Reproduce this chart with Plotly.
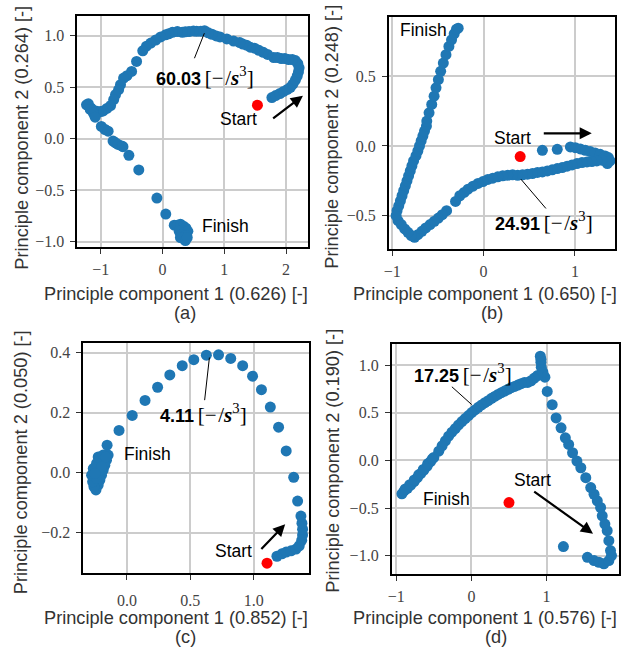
import plotly.graph_objects as go

W, H = 621, 656
BLUE = "#1f77b4"
RED = "#ff0000"

# ---------------- data ----------------
# Panel (a)
a_x = [1.77, 1.83, 1.90, 1.96, 2.02, 2.07, 2.11, 2.15, 2.18, 2.20, 2.21, 2.19, 2.15, 2.10, 2.04, 1.98,
       1.92, 1.86, 1.80, 1.70, 1.63, 1.56, 1.49, 1.42, 1.36, 1.30, 1.25, 1.15, 1.04, 0.93, 0.87, 0.80,
       0.74, 0.68, 0.62, 0.55, 0.50, 0.43, 0.37, 0.32, 0.24, 0.16, 0.10, 0.05, -0.03, -0.11, -0.19,
       -0.26, -0.32, -0.42, -0.50, -0.575, -0.63, -0.68, -0.71, -0.76, -0.79, -0.84, -0.90, -0.96,
       -1.00, -1.04, -1.08, -1.12, -1.16, -1.20, -1.23, -1.17, -1.12, -1.09, -0.99, -0.93, -0.88,
       -0.80, -0.76, -0.72, -0.66, -0.64, -0.544, -0.384, -0.091, 0.053, 0.19,
       0.24, 0.29, 0.34, 0.38, 0.32, 0.27, 0.36, 0.41, 0.31, 0.38, 0.34, 0.29, 0.37, 0.40]
a_y = [0.40, 0.42, 0.44, 0.46, 0.48, 0.50, 0.53, 0.57, 0.61, 0.65, 0.69, 0.73, 0.76, 0.77, 0.77, 0.78,
       0.78, 0.79, 0.79, 0.82, 0.84, 0.86, 0.88, 0.89, 0.91, 0.92, 0.935, 0.95, 0.97, 0.99, 1.00, 1.016,
       1.03, 1.05, 1.045, 1.045, 1.048, 1.042, 1.04, 1.035, 1.042, 1.035, 1.02, 1.01, 0.99, 0.96, 0.93,
       0.90, 0.855, 0.752, 0.655, 0.613, 0.59, 0.526, 0.477, 0.429, 0.381, 0.323, 0.295, 0.27,
       0.265, 0.26, 0.27, 0.275, 0.30, 0.34, 0.33, 0.285, 0.25, 0.21, 0.12, 0.09, 0.074,
       -0.023, -0.04, -0.055, -0.07, -0.077, -0.161, -0.303, -0.577, -0.732, -0.84,
       -0.84, -0.83, -0.85, -0.87, -0.89, -0.90, -0.91, -0.90, -0.93, -0.94, -0.97, -0.96, -0.99, -0.96]
a_start = [1.536, 0.326]

# Panel (b)
b_x = [0.644, 0.807, 0.951, 1.005, 1.06, 1.114, 1.168, 1.222, 1.277, 1.331, 1.367, 1.385, 1.356,
       1.349, 1.295, 1.24, 1.186, 1.132, 1.078, 1.023, 0.969, 0.915, 0.861, 0.807, 0.752, 0.698,
       0.644, 0.590, 0.535, 0.481, 0.427, 0.373, 0.318, 0.264, 0.21, 0.156, 0.101, 0.047, -0.007,
       -0.061, -0.116, -0.17, -0.213, -0.26, -0.307, -0.405, -0.452, -0.495, -0.539, -0.586,
       -0.633, -0.676, -0.72, -0.756, -0.792, -0.828, -0.864, -0.901, -0.937, -0.958, -0.948,
       -0.929, -0.911, -0.893, -0.875, -0.857, -0.839, -0.821, -0.803, -0.785, -0.767, -0.741,
       -0.720, -0.702, -0.684, -0.665, -0.647, -0.626, -0.622, -0.597, -0.568, -0.542, -0.521,
       -0.495, -0.47, -0.441, -0.412, -0.380, -0.351, -0.322, -0.297, -0.278]
b_y = [-0.031, -0.024, -0.007, -0.012, -0.021, -0.031, -0.040, -0.05, -0.06, -0.071, -0.083, -0.107,
       -0.126, -0.112, -0.102, -0.107, -0.112, -0.114, -0.119, -0.126, -0.136, -0.145, -0.155,
       -0.162, -0.171, -0.179, -0.186, -0.19, -0.198, -0.202, -0.207, -0.21, -0.207, -0.21, -0.214,
       -0.221, -0.231, -0.24, -0.255, -0.269, -0.288, -0.31, -0.333, -0.357, -0.398, -0.464,
       -0.493, -0.517, -0.540, -0.564, -0.588, -0.612, -0.636, -0.655, -0.643, -0.619, -0.595,
       -0.564, -0.536, -0.5, -0.464, -0.429, -0.393, -0.357, -0.321, -0.286, -0.25, -0.214,
       -0.179, -0.143, -0.107, -0.071, -0.036, 0.0, 0.036, 0.071, 0.107, 0.143, 0.179, 0.238,
       0.298, 0.357, 0.417, 0.476, 0.536, 0.595, 0.655, 0.714, 0.762, 0.805, 0.838, 0.845]
b_start = [0.401, -0.076]

# Panel (c)
c_x = [1.182, 1.221, 1.255, 1.293, 1.332, 1.358, 1.377, 1.384, 1.384, 1.379, 1.371, 1.345, 1.314,
       1.255, 1.195, 1.13, 1.06, 0.99, 0.912, 0.818, 0.722, 0.626, 0.527, 0.436, 0.338, 0.242,
       0.143, 0.042, -0.062, -0.156, -0.161, -0.226,
       -0.148, -0.161, -0.174, -0.187, -0.2, -0.213, -0.226, -0.244, -0.26, -0.27, -0.278, -0.265,
       -0.239, -0.213, -0.187, -0.226, -0.239, -0.2, -0.166, -0.252]
c_y = [-0.278, -0.27, -0.264, -0.26, -0.254, -0.243, -0.225, -0.207, -0.188, -0.168, -0.144, -0.094,
       -0.015, 0.073, 0.152, 0.219, 0.277, 0.322, 0.357, 0.381, 0.393, 0.392, 0.377, 0.357, 0.326,
       0.285, 0.241, 0.191, 0.141, 0.092, 0.059, 0.053,
       0.059, 0.042, 0.025, 0.009, -0.008, -0.024, -0.041, -0.057, -0.046, -0.03, -0.008, 0.014,
       0.031, 0.048, 0.059, 0.003, -0.019, 0.02, 0.053, -0.002]
c_start = [1.104, -0.301]

# Panel (d)
d_x = [1.224, 1.544, 1.632, 1.697, 1.763, 1.829, 1.864, 1.851, 1.829, 1.807, 1.776, 1.741, 1.719,
       1.675, 1.632, 1.588, 1.522, 1.456, 1.404, 1.346, 1.294, 1.25, 1.193, 1.127, 1.075, 1.009,
       0.978, 0.952, 0.93, 0.925, 0.925, 0.917,
       0.882, 0.838, 0.794, 0.750, 0.706, 0.662, 0.618, 0.575, 0.531, 0.487, 0.443, 0.399, 0.355,
       0.311, 0.268, 0.224, 0.18, 0.136, 0.092, 0.048, 0.004, -0.039, -0.083, -0.127, -0.171,
       -0.215, -0.259, -0.303, -0.346, -0.390, -0.434,
       -0.500, -0.544, -0.588, -0.632, -0.675, -0.719, -0.763, -0.807, -0.851, -0.895, -0.925,
       -0.880, -0.820, -0.760, -0.700, -0.640, -0.580, -0.520]
d_y = [-0.904, -1.016, -1.05, -1.068, -1.085, -1.05, -0.998, -0.946, -0.842, -0.737, -0.668, -0.581,
       -0.494, -0.424, -0.355, -0.285, -0.181, -0.077, -0.007, 0.08, 0.167, 0.237, 0.341, 0.445,
       0.584, 0.723, 0.873, 0.925, 0.977, 1.03, 1.06, 1.092,
       0.89, 0.863, 0.835, 0.817, 0.817, 0.804, 0.790, 0.776, 0.762, 0.745, 0.727, 0.710, 0.692,
       0.671, 0.651, 0.626, 0.605, 0.581, 0.557, 0.529, 0.501, 0.470, 0.438, 0.407, 0.372, 0.334,
       0.296, 0.254, 0.205, 0.153, 0.097,
       0.031, -0.014, -0.059, -0.101, -0.139, -0.181, -0.223, -0.258, -0.292, -0.320, -0.351,
       -0.300, -0.255, -0.205, -0.150, -0.095, -0.035, 0.015]
d_start = [0.50, -0.442]

# Axis tick labels
a_xticks = [-1, 0, 1, 2]
a_xtext = ["\u22121", "0", "1", "2"]
a_yticks = [-1.0, -0.5, 0.0, 0.5, 1.0]
a_ytext = ["\u22121.0", "\u22120.5", "0.0", "0.5", "1.0"]
b_xticks = [-1, 0, 1]
b_xtext = ["\u22121", "0", "1"]
b_yticks = [-0.5, 0.0, 0.5]
b_ytext = ["\u22120.5", "0.0", "0.5"]
c_xticks = [0.0, 0.5, 1.0]
c_xtext = ["0.0", "0.5", "1.0"]
c_yticks = [-0.2, 0.0, 0.2, 0.4]
c_ytext = ["\u22120.2", "0.0", "0.2", "0.4"]
d_xticks = [-1, 0, 1]
d_xtext = ["\u22121", "0", "1"]
d_yticks = [-1.0, -0.5, 0.0, 0.5, 1.0]
d_ytext = ["\u22121.0", "\u22120.5", "0.0", "0.5", "1.0"]

x_titles = ["Principle component 1 (0.626) [-]", "Principle component 1 (0.650) [-]",
            "Principle component 1 (0.852) [-]", "Principle component 1 (0.576) [-]"]
y_titles = ["Principle component 2 (0.264) [-]", "Principle component 2 (0.248) [-]",
            "Principle component 2 (0.050) [-]", "Principle component 2 (0.190) [-]"]
sub_labels = ["(a)", "(b)", "(c)", "(d)"]
jerk_values = ["60.03", "24.91", "4.11", "17.25"]

# ---------------- layout geometry (pixels) ----------------
frames = [  # left, right, top, bottom
    (73, 306, 16, 248),
    (388, 617, 17, 250),
    (79, 307, 345, 576),
    (391, 621, 346, 577),
]
ranges = [
    ([-1.381, 2.347], [-1.051, 1.194]),
    ([-1.04, 1.44], [-0.738, 0.926]),
    ([-0.345, 1.431], [-0.335, 0.431]),
    ([-1.062, 1.964], [-1.195, 1.216]),
]
ticks = [
    (a_xticks, a_xtext, a_yticks, a_ytext),
    (b_xticks, b_xtext, b_yticks, b_ytext),
    (c_xticks, c_xtext, c_yticks, c_ytext),
    (d_xticks, d_xtext, d_yticks, d_ytext),
]
series = [(a_x, a_y, a_start), (b_x, b_y, b_start), (c_x, c_y, c_start), (d_x, d_y, d_start)]


def px(x):
    return x / W


def py(y):
    return 1 - y / H


fig = go.Figure()
layout = dict(
    width=W, height=H, margin=dict(l=0, r=0, t=0, b=0),
    paper_bgcolor="white", plot_bgcolor="white", showlegend=False,
)
TICKFONT = dict(family="Liberation Serif", size=16, color="#444")
for i in range(4):
    sfx = "" if i == 0 else str(i + 1)
    l, r, t, b = frames[i]
    xr, yr = ranges[i]
    xt, xtt, yt, ytt = ticks[i]
    common = dict(showline=True, mirror=True, linecolor="black", linewidth=1.5,
                  showgrid=True, gridcolor="#cccccc", gridwidth=1.5, zeroline=False,
                  ticks="outside", ticklen=5, tickwidth=1, tickcolor="#333",
                  tickfont=TICKFONT)
    layout["xaxis" + sfx] = dict(common, domain=[px(l), px(r)], range=xr, tickvals=xt,
                                  ticktext=xtt, anchor="y" + sfx,
                                  ticklabelstandoff=(7 if i == 2 else 2))
    layout["yaxis" + sfx] = dict(common, domain=[py(b), py(t)], range=yr, tickvals=yt,
                                  ticktext=ytt, anchor="x" + sfx, ticklabelstandoff=3)
    xs, ys, st = series[i]
    fig.add_trace(go.Scatter(x=xs, y=ys, mode="markers", xaxis="x" + sfx, yaxis="y" + sfx,
                             marker=dict(size=11, color=BLUE, line=dict(width=0)),
                             hoverinfo="skip"))
    fig.add_trace(go.Scatter(x=[st[0]], y=[st[1]], mode="markers", xaxis="x" + sfx,
                             yaxis="y" + sfx, marker=dict(size=11, color=RED, line=dict(width=0)),
                             hoverinfo="skip"))

fig.update_layout(**layout)

ann = []
TFONT = dict(family="Liberation Sans", size=18.2, color="#333")
xt_pos = [(172.5, 295), (485.5, 295), (172.5, 621), (485.5, 621)]
yt_pos = [(17, 138.5), (331, 137), (17, 464.5), (332, 462.5)]
sl_pos = [(182.5, 314), (493, 314), (183, 640), (496.7, 640)]
for i in range(4):
    ann.append(dict(text=x_titles[i], x=px(xt_pos[i][0]), y=py(xt_pos[i][1]), xref="paper",
                    yref="paper", showarrow=False, font=TFONT, xanchor="center", yanchor="middle"))
    ann.append(dict(text=y_titles[i], x=px(yt_pos[i][0]), y=py(yt_pos[i][1]), xref="paper",
                    yref="paper", showarrow=False, font=TFONT, textangle=-90,
                    xanchor="center", yanchor="middle"))
    ann.append(dict(text=sub_labels[i], x=px(sl_pos[i][0]), y=py(sl_pos[i][1]), xref="paper",
                    yref="paper", showarrow=False, font=TFONT, xanchor="center", yanchor="middle"))

LFONT = dict(family="Liberation Sans", size=17.5, color="black")
# Start / Finish labels (data coords)
labels = [
    ("x", "y", "Start", 1.232, 0.194), ("x", "y", "Finish", 1.019, -0.846),
    ("x2", "y2", "Start", 0.318, 0.06), ("x2", "y2", "Finish", -0.658, 0.834),
    ("x3", "y3", "Start", 0.839, -0.262), ("x3", "y3", "Finish", 0.161, 0.061),
    ("x4", "y4", "Start", 0.807, -0.206), ("x4", "y4", "Finish", -0.325, -0.407),
]
for xr_, yr_, txt, xx, yy in labels:
    ann.append(dict(text=txt, x=xx, y=yy, xref=xr_, yref=yr_, showarrow=False, font=LFONT,
                    xanchor="center", yanchor="middle"))

# Direction arrows (tail -> head)
arrows = [
    ("x", "y", 1.766, 0.187, 2.272, 0.419),
    ("x2", "y2", 0.643, 0.091, 1.185, 0.091),
    ("x3", "y3", 1.048, -0.259, 1.247, -0.171),
    ("x4", "y4", 0.816, -0.316, 1.618, -0.769),
]
for xr_, yr_, x0, y0, x1, y1 in arrows:
    ann.append(dict(text="", x=x1, y=y1, ax=x0, ay=y0, xref=xr_, yref=yr_, axref=xr_, ayref=yr_,
                    showarrow=True, arrowhead=2, arrowsize=1.1, arrowwidth=2.2,
                    arrowcolor="black", standoff=0, startstandoff=0))

# Jerk value annotations: text + leader line
jerk = [
    ("x", "y", 0.683, 0.603, 0.677, 1.026, 0.507, 0.768),
    ("x2", "y2", 0.667, -0.545, 0.409, -0.238, 0.697, -0.459),
    ("x3", "y3", 0.602, 0.197, 0.65, 0.384, 0.611, 0.237),
    ("x4", "y4", -0.109, 0.908, 0.004, 0.585, -0.28, 0.786),
]
for i, (xr_, yr_, tx, ty, x1, y1, x0, y0) in enumerate(jerk):
    txt = ("<b>" + jerk_values[i] + "</b>\u2009<span style=\"font-family:Liberation Serif;"
           "font-size:21px\">[\u2212\u200a/<b><i>s</i></b><sup>3</sup>]</span>")
    ann.append(dict(text=txt, x=tx, y=ty, xref=xr_, yref=yr_, showarrow=False,
                    font=dict(family="Liberation Sans", size=18, color="black"),
                    xanchor="center", yanchor="middle"))
    ann.append(dict(text="", x=x1, y=y1, ax=x0, ay=y0, xref=xr_, yref=yr_, axref=xr_, ayref=yr_,
                    showarrow=True, arrowhead=0, arrowwidth=1, arrowcolor="black",
                    standoff=0, startstandoff=0))

fig.update_layout(annotations=ann)
fig.write_html("out.html", config={"displayModeBar": False},
               post_script="document.body.style.margin='0px';")
